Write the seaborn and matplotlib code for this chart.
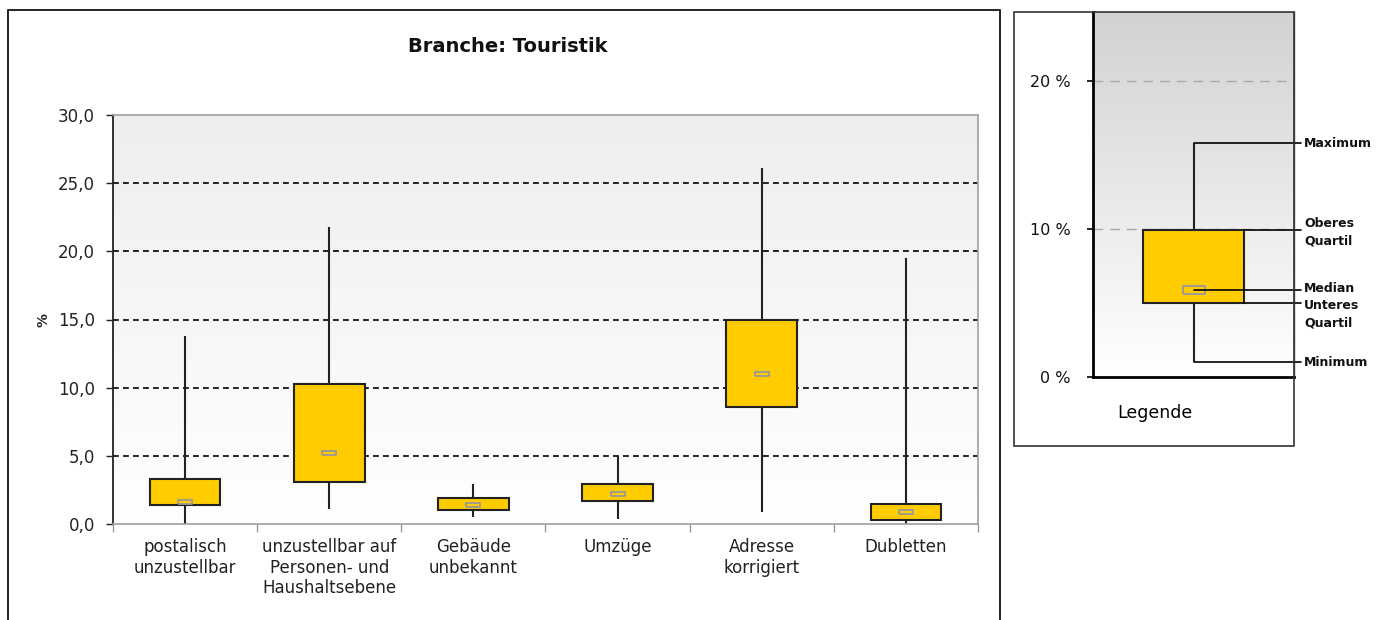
import numpy as np
import pandas as pd
import matplotlib
matplotlib.use("Agg")
import matplotlib.pyplot as plt
import seaborn as sns
from matplotlib.patches import Rectangle
from matplotlib.colors import LinearSegmentedColormap
from matplotlib.ticker import FuncFormatter
import matplotlib.transforms as mtransforms

# Data (percent)
categories = ["postalisch\nunzustellbar",
              "unzustellbar auf\nPersonen- und\nHaushaltsebene",
              "Gebäude\nunbekannt",
              "Umzüge",
              "Adresse\nkorrigiert",
              "Dubletten"]
minimums = [0.0, 1.1, 0.5, 0.4, 0.9, 0.0]
lower_quartiles = [1.4, 3.1, 1.0, 1.7, 8.6, 0.3]
medians = [1.6, 5.2, 1.4, 2.2, 11.0, 0.9]
upper_quartiles = [3.3, 10.3, 1.9, 2.9, 15.0, 1.5]
maximums = [13.8, 21.8, 2.9, 5.0, 26.1, 19.5]
y_ticks = [0, 5, 10, 15, 20, 25, 30]

# Example box shown in the legend panel
legend_stats = [1.0, 5.0, 5.9, 9.9, 15.8]  # min, q1, median, q3, max
legend_ticks = [0, 10, 20]
legend_tick_labels = ["0 %", "10 %", "20 %"]
legend_names = ["Minimum", "Unteres\nQuartil", "Median", "Oberes\nQuartil", "Maximum"]

YELLOW = "#FFCC00"
EDGE = "#222222"
W, H = 1382, 620

sns.set_style("white")
plt.rcParams["font.family"] = ["DejaVu Sans"]


def five_point_frame(names, stats_rows):
    # five values per box give exactly these quartiles with linear interpolation
    rows = []
    for name, vals in zip(names, stats_rows):
        for v in vals:
            rows.append({"cat": name, "val": v})
    return pd.DataFrame(rows)


def gradient(ax, top, bottom):
    cmap = LinearSegmentedColormap.from_list("bg", [bottom, top])
    ax.imshow(np.linspace(0, 1, 256)[:, None], extent=[0, 1, 0, 1], origin="lower",
              transform=ax.transAxes, aspect="auto", cmap=cmap, zorder=0)


rect_marker = [(-3, -1), (3, -1), (3, 1), (-3, 1), (-3, -1)]

fig = plt.figure(figsize=(W / 100, H / 100), dpi=100)
fig.patch.set_facecolor("white")

# ---------------- main chart ----------------
ax = fig.add_axes([113 / W, 1 - 524 / H, (978 - 113) / W, (524 - 115) / H])
df = five_point_frame(categories, zip(minimums, lower_quartiles, medians, upper_quartiles, maximums))
gradient(ax, "#eeeeee", "#ffffff")
for t in y_ticks[1:-1]:
    ax.axhline(t, color="black", lw=1.2, ls=(0, (3.5, 2.5)), zorder=1)
sns.boxplot(data=df, x="cat", y="val", order=categories, whis=(0, 100), width=0.49,
            color=YELLOW, saturation=1, linecolor=EDGE, linewidth=1.5,
            showcaps=False, fliersize=0, medianprops={"linewidth": 0}, ax=ax)
ax.plot(range(len(categories)), medians, ls="none", marker=rect_marker, ms=10,
        mfc=YELLOW, mec="#999999", mew=1.3, zorder=6)

ax.set_xlim(-0.5, len(categories) - 0.5)
ax.set_ylim(0, 30)
ax.set_yticks(y_ticks)
ax.yaxis.set_major_formatter(FuncFormatter(lambda v, p: f"{v:.1f}".replace(".", ",")))
ax.set_xlabel("")
ax.set_ylabel("")
ax.tick_params(axis="y", left=True, length=5, width=1, color=EDGE, pad=8,
               labelsize=12, labelcolor="#222222")
ax.tick_params(axis="x", which="major", length=0, pad=10, labelsize=12, labelcolor="#222222")
ax.set_xticks(np.arange(-0.5, len(categories)), minor=True)
ax.tick_params(axis="x", which="minor", bottom=True, length=6, width=1, color="#999999")
for s in ["top", "right", "bottom"]:
    ax.spines[s].set_color("#a0a0a0")
    ax.spines[s].set_linewidth(1.2)
ax.spines["left"].set_color(EDGE)
ax.spines["left"].set_linewidth(1.3)

fig.text(508 / W, 1 - 46 / H, "Branche: Touristik", ha="center", va="center",
         fontsize=14, fontweight="bold", color="#111111")
fig.text(43 / W, 1 - 320 / H, "%", ha="center", va="center", rotation=90,
         fontsize=10, fontweight="bold", color="#222222")

fig.add_artist(Rectangle((8 / W, -0.05), (1000 - 8) / W, 1.05 - 10 / H,
                         transform=fig.transFigure, fill=False, ec="black", lw=1.2))

# ---------------- legend panel ----------------
lax = fig.add_axes([1093 / W, 1 - 377 / H, (1294 - 1093) / W, (377 - 12) / H])
ldf = five_point_frame(["Legende"], [legend_stats])
gradient(lax, "#d2d2d2", "#ffffff")
for t in legend_ticks[1:]:
    lax.axhline(t, color="#aaaaaa", lw=1, ls=(0, (7, 5)), zorder=1)
sns.boxplot(data=ldf, x="cat", y="val", whis=(0, 100), width=0.5,
            color=YELLOW, saturation=1, linecolor=EDGE, linewidth=1.5,
            showcaps=False, fliersize=0, medianprops={"linewidth": 0}, ax=lax)
lax.plot([0], [legend_stats[2]], ls="none", marker=rect_marker, ms=16.5,
         mfc=YELLOW, mec="#999999", mew=1.3, zorder=6)
lax.set_xlim(-0.5, 0.5)
lax.set_ylim(0, 24.66)
lax.set_yticks(legend_ticks)
lax.set_yticklabels(legend_tick_labels)
lax.set_xticks([])
lax.set_xlabel("")
lax.set_ylabel("")
lax.tick_params(axis="y", left=True, length=4, width=1.2, color="black", pad=12,
                labelsize=11.5, labelcolor="#111111")
lax.spines["left"].set_linewidth(2)
lax.spines["left"].set_color("black")
lax.spines["bottom"].set_linewidth(2)
lax.spines["bottom"].set_color("black")
lax.spines["top"].set_visible(False)
lax.spines["right"].set_color("#555555")
lax.spines["right"].set_linewidth(1)

# annotation lines from the example box to its labels
mix = mtransforms.blended_transform_factory(lax.transAxes, lax.transData)
mn, q1, md, q3, mx = legend_stats
line_starts = [(0.5, mn), (0.75, q1), (0.5, md), (0.75, q3), (0.5, mx)]
label_y = [mn, q1 - 0.75, md + 0.1, q3 - 0.1, mx]
for (xs, yv), name, ly in zip(line_starts, legend_names, label_y):
    lax.plot([xs, 1.035], [yv, yv], transform=mix, color="black", lw=1.2,
             clip_on=False, zorder=7)
    lax.text(1.05, ly, name, transform=mix, ha="left", va="center",
             fontsize=9, fontweight="bold", color="#111111", linespacing=1.45)

fig.text(1155 / W, 1 - 413 / H, "Legende", ha="center", va="center",
         fontsize=12.5, color="black")

fig.add_artist(Rectangle((1014 / W, 1 - 446 / H), (1294 - 1014) / W, (446 - 12) / H,
                         transform=fig.transFigure, fill=False, ec="#333333", lw=1.2))

fig.savefig("out.png", dpi=100, facecolor="white")
